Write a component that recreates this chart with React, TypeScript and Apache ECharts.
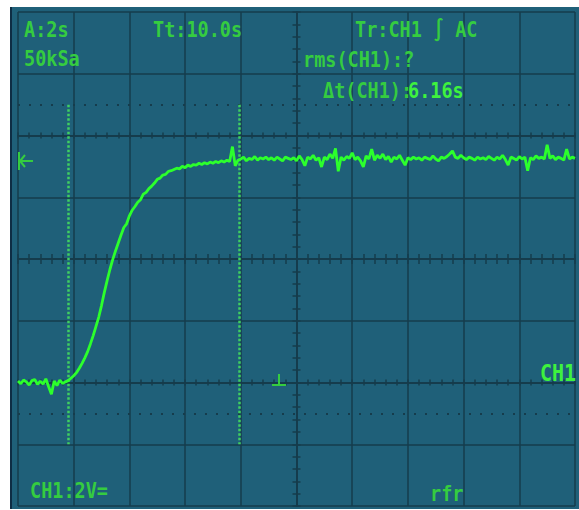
import React, { useEffect, useRef } from "react";
import * as echarts from "echarts";

const SAMPLE_INTERVAL_S = 0.1;
const TIME_RANGE_S = [0, 20];
const VOLT_RANGE = [-4, 12];
const DIV_TIME_S = 2;
const DIV_VOLT = 2;

const CH1_VOLTS = [
  // 0.0 - 1.8 s baseline
  0.05, -0.04, 0.08, 0.02, -0.08, 0.06, 0.1, -0.06, 0.04, -0.05,
  0.12, -0.14, -0.38, 0.05, -0.1, 0.08, -0.03, 0.02, 0.06,
  // 1.9 - 7.9 s rise
  0.14, 0.22, 0.32, 0.46, 0.62, 0.8, 1.0, 1.25, 1.52, 1.82,
  2.12, 2.5, 2.92, 3.3, 3.66, 3.98, 4.26, 4.52, 4.78, 5.02,
  5.14, 5.4, 5.58, 5.7, 5.84, 5.92, 6.1, 6.16, 6.28, 6.36,
  6.46, 6.58, 6.62, 6.72, 6.74, 6.84, 6.86, 6.9, 6.94, 6.92,
  7.0, 6.96, 7.04, 7.0, 7.06, 7.04, 7.1, 7.06, 7.12, 7.08,
  7.14, 7.1, 7.16, 7.12, 7.18, 7.14, 7.2, 7.16, 7.64, 7.02, 7.2,
  // 8.0 - 20.0 s settled
  7.24, 7.3, 7.18, 7.26, 7.22, 7.32, 7.2, 7.28, 7.24, 7.3,
  7.22, 7.28, 7.2, 7.3, 7.24, 7.18, 7.3, 7.26, 7.22, 7.28,
  7.18, 7.34, 7.22, 7.02, 7.3, 7.24, 7.36, 7.2, 7.28, 6.98,
  7.3, 7.22, 7.4, 7.26, 7.58, 6.84, 7.3, 7.2, 7.32, 7.26,
  7.44, 7.22, 7.3, 7.18, 6.98, 7.34, 7.24, 7.56, 7.2, 7.36,
  7.26, 7.4, 7.22, 7.32, 7.14, 7.3, 7.24, 7.36, 7.2, 7.04,
  7.28, 7.22, 7.3, 7.24, 7.28, 7.2, 7.3, 7.26, 7.22, 7.34,
  7.24, 7.18, 7.3, 7.26, 7.32, 7.4, 7.5, 7.3, 7.26, 7.36,
  7.28, 7.22, 7.3, 7.26, 7.2, 7.3, 7.24, 7.28, 7.22, 7.32,
  7.26, 7.2, 7.3, 7.24, 7.36, 7.22, 7.04, 7.3, 7.26, 7.2,
  7.32, 7.24, 7.3, 6.86, 7.28, 7.22, 7.34, 7.26, 7.3, 7.24,
  7.7, 7.26, 7.34, 7.22, 7.3, 7.26, 7.2, 7.56, 7.24, 7.3,
  7.26,
];

const CURSOR_TIMES_S = [1.8, 7.96];
const CURSOR_SPAN_V = [-2, 9];
const DOTTED_LEVELS_V = [9, -1];
const TICK_ROWS_V = [0, 4, 8];
const TICK_ROW_LENGTHS = [3, 5, 3];
const TICK_COLUMN_T = 10;

const LABEL_TEXTS = ["A:2s", "Tt:10.0s", "Tr:CH1 ∫ AC", "50kSa", "rms(CH1):?", "Δt(CH1):", "6.16s", "CH1:2V=", "rfr"];
const LABEL_X = [24, 153, 355, 24, 303, 323, 408, 30, 430];
const LABEL_Y = [30, 30, 30, 59, 60, 91, 91, 491, 494];
const LABEL_BRIGHT = [false, false, false, false, false, false, true, false, false];

// ---- styles ----
const SCREEN_BG = "#1f6079";
const GRID_COLOR = "#163c4c";
const TEXT_GREEN = "#35cc40";
const BRIGHT_GREEN = "#3ef23e";
const TRACE_GREEN = "#2cff2c";
const CURSOR_GREEN = "#40d060";
const FONT = '"DejaVu Sans Mono", monospace';

export default function App() {
  const ref = useRef<HTMLDivElement>(null);

  useEffect(() => {
    if (!ref.current) return;
    const chart = echarts.init(ref.current, undefined, { renderer: "svg" });

    const hidden = { show: false };
    const xAxes: any[] = [];
    const yAxes: any[] = [];

    // main graticule
    xAxes.push({
      type: "value", min: TIME_RANGE_S[0], max: TIME_RANGE_S[1], interval: DIV_TIME_S,
      position: "bottom",
      axisLine: { show: false, onZero: false }, axisTick: hidden, axisLabel: hidden,
      splitLine: { show: true, lineStyle: { color: GRID_COLOR, width: 1.5 } },
    });
    yAxes.push({
      type: "value", min: VOLT_RANGE[0], max: VOLT_RANGE[1], interval: DIV_VOLT,
      position: "left",
      axisLine: { show: false, onZero: false }, axisTick: hidden, axisLabel: hidden,
      splitLine: { show: true, lineStyle: { color: GRID_COLOR, width: 1.5 } },
    });

    // reference y axes whose zero sits on each tick row
    const rowRefIndex: number[] = [];
    TICK_ROWS_V.forEach((v) => {
      if (v === 0) { rowRefIndex.push(0); return; }
      yAxes.push({
        type: "value", min: VOLT_RANGE[0] - v, max: VOLT_RANGE[1] - v, position: "left",
        show: false, axisLine: { onZero: false }, splitLine: hidden,
      });
      rowRefIndex.push(yAxes.length - 1);
    });

    TICK_ROWS_V.forEach((v, i) => {
      [false, true].forEach((inside) => {
        xAxes.push({
          type: "value", min: TIME_RANGE_S[0], max: TIME_RANGE_S[1], interval: DIV_TIME_S / 5,
          position: "bottom",
          axisLine: { show: true, onZero: true, onZeroAxisIndex: rowRefIndex[i], lineStyle: { color: GRID_COLOR, width: 1.5 } },
          axisTick: { show: true, inside, length: TICK_ROW_LENGTHS[i], lineStyle: { color: GRID_COLOR, width: 1.5 } },
          axisLabel: hidden, splitLine: hidden,
        });
      });
    });

    // reference x axis whose zero sits on the centre column
    xAxes.push({
      type: "value", min: TIME_RANGE_S[0] - TICK_COLUMN_T, max: TIME_RANGE_S[1] - TICK_COLUMN_T,
      position: "bottom", show: false, axisLine: { onZero: false }, splitLine: hidden,
    });
    const colRef = xAxes.length - 1;
    [false, true].forEach((inside) => {
      yAxes.push({
        type: "value", min: VOLT_RANGE[0], max: VOLT_RANGE[1], interval: DIV_VOLT / 5,
        position: "left",
        axisLine: { show: true, onZero: true, onZeroAxisIndex: colRef, lineStyle: { color: GRID_COLOR, width: 1.5 } },
        axisTick: { show: true, inside, length: 4, lineStyle: { color: GRID_COLOR, width: 1.5 } },
        axisLabel: hidden, splitLine: hidden,
      });
    });

    const traceData = CH1_VOLTS.map((v, i) => [Number((i * SAMPLE_INTERVAL_S).toFixed(2)), v]);

    const labelGraphics = LABEL_TEXTS.map((t, i) => ({
      type: "text",
      x: LABEL_X[i],
      y: LABEL_Y[i],
      scaleY: 1.15,
      z: 100,
      silent: true,
      style: {
        text: t,
        fill: LABEL_BRIGHT[i] ? BRIGHT_GREEN : TEXT_GREEN,
        fontFamily: FONT,
        fontSize: 18.5,
        fontWeight: "bold",
        verticalAlign: "middle",
        align: "left",
      },
    }));

    const markerStroke = { stroke: TEXT_GREEN, lineWidth: 2 };

    chart.setOption({
      animation: false,
      backgroundColor: "transparent",
      grid: { left: 18, right: 4, top: 12, bottom: 4, containLabel: false },
      xAxis: xAxes,
      yAxis: yAxes,
      series: [
        {
          type: "line",
          data: [],
          xAxisIndex: 0,
          yAxisIndex: 0,
          silent: true,
          z: 1,
          markLine: {
            silent: true,
            symbol: "none",
            label: { show: false },
            data: [
              ...DOTTED_LEVELS_V.map((v) => [
                { coord: [TIME_RANGE_S[0], v], lineStyle: { color: GRID_COLOR, width: 2, type: [2, 9] } },
                { coord: [TIME_RANGE_S[1], v] },
              ]),
              ...CURSOR_TIMES_S.map((t) => [
                { coord: [t, CURSOR_SPAN_V[1]], lineStyle: { color: CURSOR_GREEN, width: 2.5, type: [2.5, 2] } },
                { coord: [t, CURSOR_SPAN_V[0]] },
              ]),
            ],
          },
        },
        {
          type: "line",
          data: traceData,
          xAxisIndex: 0,
          yAxisIndex: 0,
          showSymbol: false,
          symbol: "none",
          silent: true,
          z: 5,
          lineStyle: { color: TRACE_GREEN, width: 2.8 },
        },
      ],
      graphic: {
        elements: [
          ...labelGraphics,
          {
            type: "text", x: 540, y: 373, scaleY: 1.15, silent: true, z: 100,
            style: { text: "CH1", fill: BRIGHT_GREEN, fontFamily: FONT, fontSize: 20, fontWeight: "bold", verticalAlign: "middle" },
          },
          // level marker |<-
          { type: "line", silent: true, z: 100, shape: { x1: 19, y1: 152, x2: 19, y2: 170 }, style: markerStroke },
          { type: "line", silent: true, z: 100, shape: { x1: 19, y1: 161, x2: 33, y2: 161 }, style: markerStroke },
          { type: "polyline", silent: true, z: 100, shape: { points: [[25, 155], [20, 161], [25, 167]] }, style: { ...markerStroke, fill: "none" } },
          // trigger position marker ⊥
          { type: "line", silent: true, z: 100, shape: { x1: 279, y1: 374, x2: 279, y2: 385 }, style: markerStroke },
          { type: "line", silent: true, z: 100, shape: { x1: 272, y1: 385, x2: 286, y2: 385 }, style: markerStroke },
        ],
      },
    });

    return () => chart.dispose();
  }, []);

  return (
    <div style={{ position: "fixed", left: 0, top: 0, width: 579, height: 510, background: "#ffffff" }}>
      <div
        style={{
          position: "absolute", left: 10, top: 7, width: 569, height: 502,
          background: SCREEN_BG, borderLeft: "2px solid #0e2d44", boxSizing: "border-box",
        }}
      />
      <div ref={ref} style={{ position: "absolute", left: 0, top: 0, width: 579, height: 510 }} />
    </div>
  );
}
